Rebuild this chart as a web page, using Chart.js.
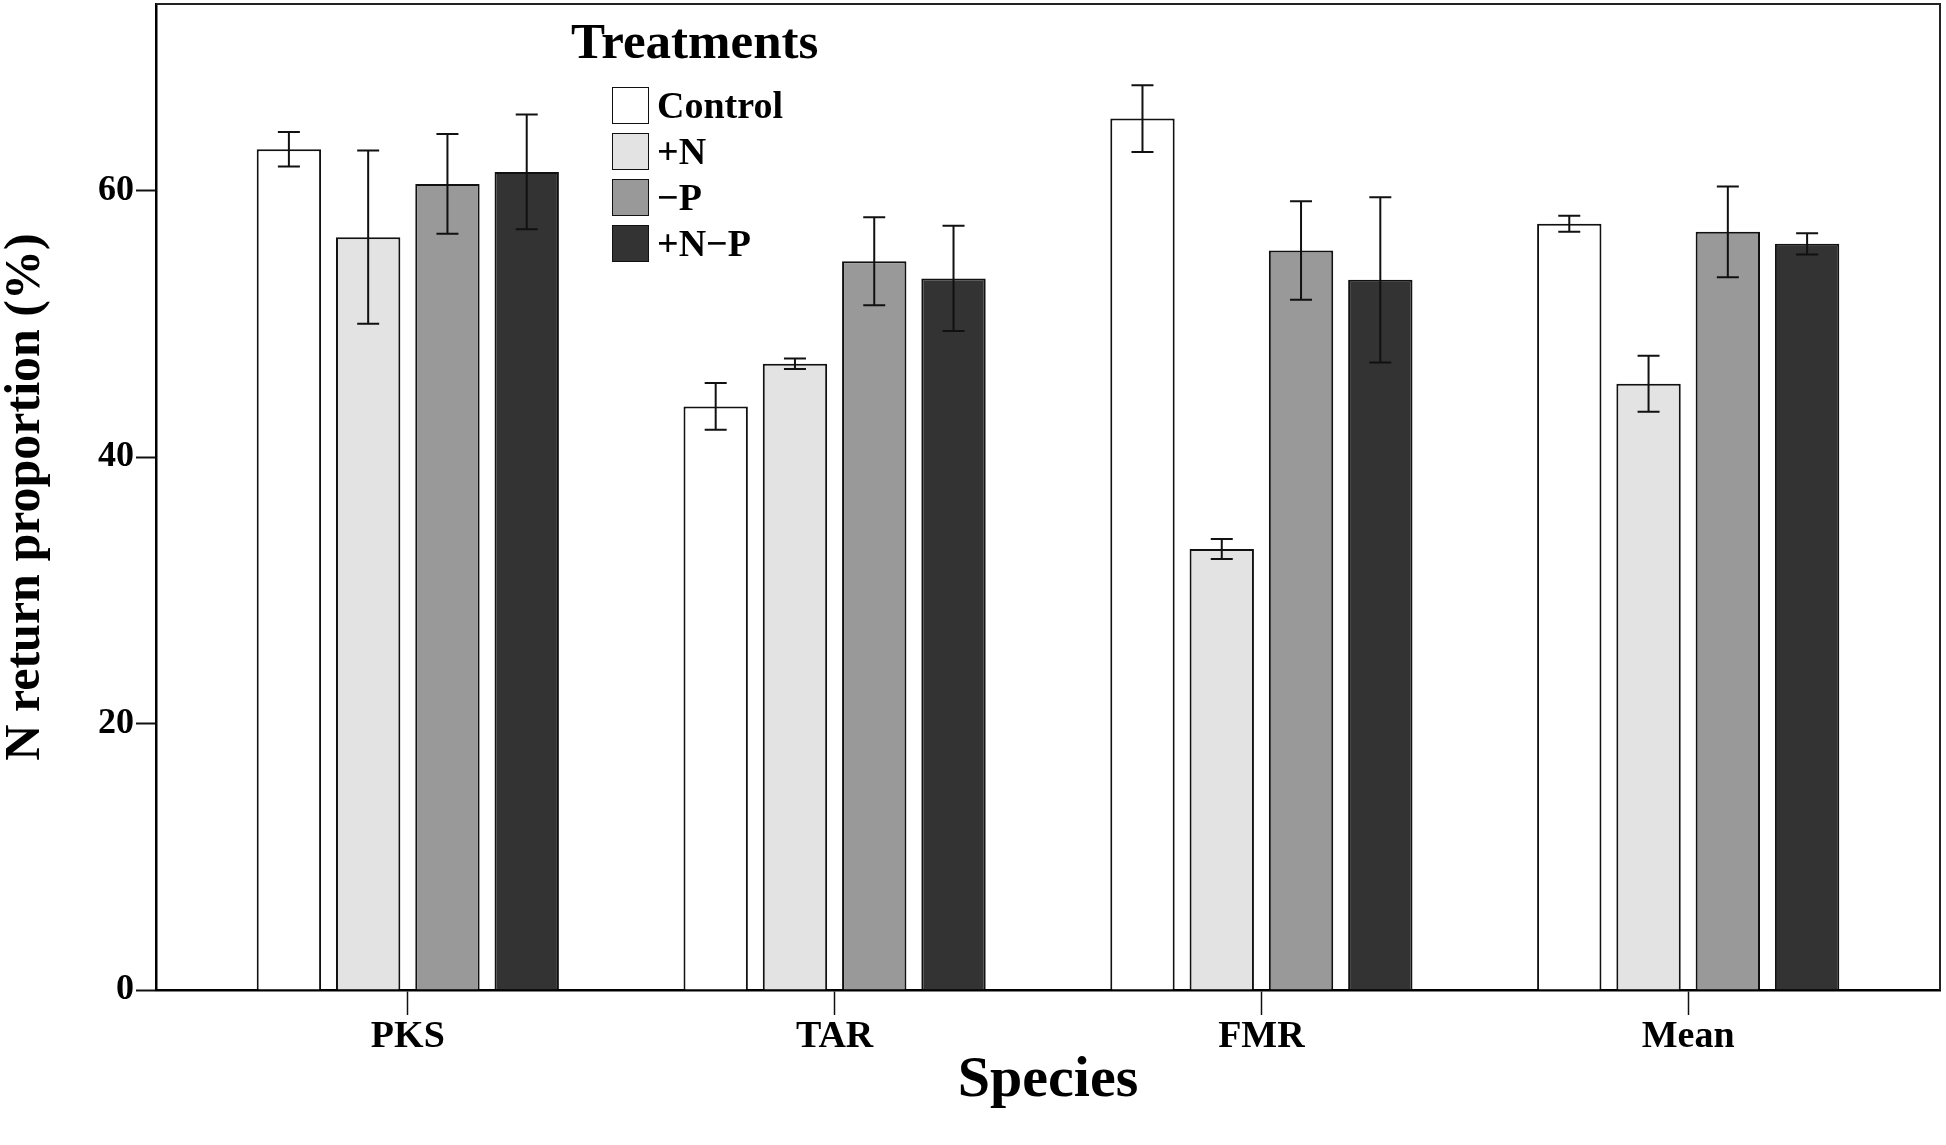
<!DOCTYPE html>
<html lang="en">
<head>
    <meta charset="UTF-8">
    <title>N return proportion by species</title>
    <script src="https://cdn.jsdelivr.net/npm/chart.js"></script>
    <style>
        body { margin: 0; background: #fff; }
        #wrap { position: relative; width: 1946px; height: 1145px; }
        #legend { position: absolute; left: 571px; top: 13px; font-family: 'Liberation Serif', 'Times New Roman', serif; font-weight: bold; color: #000; }
        #legend .ltitle { font-size: 51px; line-height: 56px; }
        #legend .rows { margin-top: 13px; margin-left: 41px; }
        #legend .row { display: flex; align-items: center; height: 46px; }
        #legend .box { width: 35px; height: 35px; border: 1.5px solid #111; margin-right: 8px; }
        #legend .txt { font-size: 38px; line-height: 46px; }
    </style>
</head>
<body>
<div id="wrap">
    <canvas id="myChart" width="1946" height="1145"></canvas>
    <div id="legend"><div class="ltitle">Treatments</div><div class="rows" id="legendRows"></div></div>
</div>
<script>
    // categories and treatments
    const categories = ['PKS', 'TAR', 'FMR', 'Mean'];
    const treatments = ['Control', '+N', '\u2212P', '+N\u2212P'];
    const colors = ['#ffffff', '#e3e3e3', '#999999', '#333333'];

    // means (%)
    const control = [63.1, 43.8, 65.4, 57.5];
    const plusN = [56.5, 47.0, 33.1, 45.5];
    const minusP = [60.5, 54.7, 55.5, 56.9];
    const plusNminusP = [61.4, 53.4, 53.3, 56.0];

    // error bar half-lengths
    const controlErr = [1.3, 1.75, 2.5, 0.6];
    const plusNErr = [6.5, 0.4, 0.75, 2.1];
    const minusPErr = [3.75, 3.3, 3.7, 3.4];
    const plusNminusPErr = [4.3, 3.95, 6.2, 0.8];

    const yTicks = [0, 20, 40, 60];

    const series = [control, plusN, minusP, plusNminusP];
    const errors = [controlErr, plusNErr, minusPErr, plusNminusPErr];

    const serif = "'Liberation Serif', 'Times New Roman', serif";

    // legend (html, sits inside the plot frame)
    const rowsEl = document.getElementById('legendRows');
    treatments.forEach((t, i) => {
        const row = document.createElement('div');
        row.className = 'row';
        row.innerHTML = '<div class="box" style="background:' + colors[i] + '"></div><span class="txt">' + t + '</span>';
        rowsEl.appendChild(row);
    });

    // error bars drawn from the bar elements and the y scale
    const errorBars = {
        id: 'errorBars',
        afterDatasetsDraw(chart) {
            const ctx = chart.ctx;
            const y = chart.scales.y;
            ctx.save();
            ctx.strokeStyle = '#111';
            ctx.lineWidth = 2;
            chart.data.datasets.forEach((ds, di) => {
                const meta = chart.getDatasetMeta(di);
                meta.data.forEach((bar, i) => {
                    const v = series[di][i], e = errors[di][i];
                    const yTop = y.getPixelForValue(v + e);
                    const yBot = y.getPixelForValue(v - e);
                    const cap = 11;
                    ctx.beginPath();
                    ctx.moveTo(bar.x, yTop); ctx.lineTo(bar.x, yBot);
                    ctx.moveTo(bar.x - cap, yTop); ctx.lineTo(bar.x + cap, yTop);
                    ctx.moveTo(bar.x - cap, yBot); ctx.lineTo(bar.x + cap, yBot);
                    ctx.stroke();
                });
            });
            ctx.restore();
        }
    };

    // top and right edges of the plot box
    const frame = {
        id: 'frame',
        afterDraw(chart) {
            const {ctx, chartArea: a} = chart;
            ctx.save();
            ctx.strokeStyle = '#222';
            ctx.lineWidth = 2;
            ctx.beginPath();
            ctx.moveTo(a.left, a.top); ctx.lineTo(a.right, a.top); ctx.lineTo(a.right, a.bottom);
            ctx.stroke();
            ctx.restore();
        }
    };

    const ctx = document.getElementById('myChart').getContext('2d');
    new Chart(ctx, {
        type: 'bar',
        data: {
            datasets: treatments.map((t, i) => ({
                label: t,
                data: categories.map((c, j) => ({x: j, y: series[i][j]})),
                backgroundColor: colors[i],
                borderColor: '#111',
                borderWidth: 2,
                categoryPercentage: 0.743,
                barPercentage: 0.812
            }))
        },
        options: {
            responsive: false,
            animation: false,
            layout: { padding: { top: 4, right: 6, left: 0, bottom: 0 } },
            plugins: {
                legend: { display: false },
                tooltip: { enabled: false }
            },
            scales: {
                x: {
                    type: 'linear',
                    min: -0.59,
                    max: 3.59,
                    offset: false,
                    afterBuildTicks: s => { s.ticks = categories.map((c, i) => ({value: i})); },
                    afterFit: s => { s.height = 155; s.paddingLeft = 0; s.paddingRight = 0; },
                    grid: { offset: false, drawOnChartArea: false, tickLength: 25, tickColor: '#111', tickWidth: 1.5 },
                    border: { color: '#000', width: 2.5 },
                    ticks: {
                        autoSkip: false, maxRotation: 0, padding: 5,
                        callback: v => categories[v],
                        color: '#000',
                        font: { family: serif, weight: 'bold', size: 38, lineHeight: 0.9 }
                    },
                    title: {
                        display: true, text: 'Species', color: '#000',
                        font: { family: serif, weight: 'bold', size: 58, lineHeight: 1 },
                        padding: { top: 0, bottom: 35 }
                    }
                },
                y: {
                    min: 0,
                    max: 74,
                    afterBuildTicks: s => { s.ticks = yTicks.map(v => ({value: v})); },
                    afterFit: s => { s.width = 156; s.paddingTop = 0; s.paddingBottom = 0; },
                    grid: { drawOnChartArea: false, tickLength: 20, tickColor: '#111', tickWidth: 2 },
                    border: { color: '#000', width: 2.5 },
                    ticks: {
                        padding: 2, color: '#000',
                        font: { family: serif, weight: 'bold', size: 36 }
                    },
                    title: {
                        display: true, text: 'N return proportion (%)', color: '#000',
                        font: { family: serif, weight: 'bold', size: 50, lineHeight: 1 },
                        padding: { top: 1, bottom: 0 }
                    }
                }
            }
        },
        plugins: [errorBars, frame]
    });
</script>
</body>
</html>
